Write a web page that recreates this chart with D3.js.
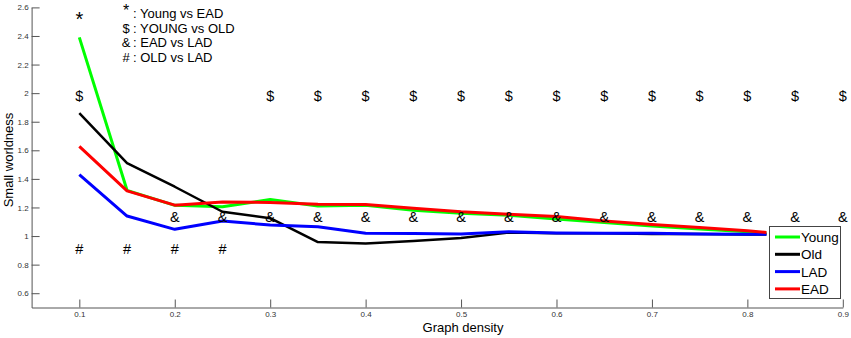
<!DOCTYPE html>
<html>
<head>
<meta charset="utf-8">
<script src="https://cdn.jsdelivr.net/npm/d3@7"></script>
<style>
  body { margin: 0; background: #fff; }
  svg { display: block; font-family: Arial, "Liberation Sans", sans-serif; }
  .axis path, .axis line { stroke: #555; }
  .axis text { fill: #333; font-size: 8px; }
</style>
</head>
<body>
<svg id="chart" width="851" height="338"></svg>
<script>
// graph densities for each threshold
const density = [0.1, 0.15, 0.2, 0.25, 0.3, 0.35, 0.4, 0.45, 0.5, 0.55, 0.6, 0.65, 0.7, 0.75, 0.8, 0.82];

const young = [2.39, 1.32, 1.215, 1.205, 1.255, 1.21, 1.215, 1.18, 1.16, 1.146, 1.12, 1.095, 1.07, 1.05, 1.03, 1.02];
const old   = [1.86, 1.51, 1.345, 1.17, 1.125, 0.958, 0.947, 0.965, 0.986, 1.024, 1.02, 1.02, 1.015, 1.015, 1.01, 1.01];
const lad   = [1.43, 1.14, 1.047, 1.105, 1.077, 1.065, 1.019, 1.017, 1.014, 1.03, 1.022, 1.02, 1.02, 1.015, 1.012, 1.012];
const ead   = [1.627, 1.316, 1.216, 1.239, 1.235, 1.223, 1.22, 1.195, 1.17, 1.153, 1.136, 1.105, 1.08, 1.06, 1.037, 1.025];

const seriesNames = ['Young', 'Old', 'LAD', 'EAD'];
const seriesColors = ['#00ff00', '#000000', '#0000ff', '#ff0000'];

// significance marks: densities where each symbol is shown
const starAt   = [0.1];
const dollarAt = [0.1, 0.3, 0.35, 0.4, 0.45, 0.5, 0.55, 0.6, 0.65, 0.7, 0.75, 0.8, 0.85, 0.9];
const ampAt    = [0.2, 0.25, 0.3, 0.35, 0.4, 0.45, 0.5, 0.55, 0.6, 0.65, 0.7, 0.75, 0.8, 0.85, 0.9];
const hashAt   = [0.1, 0.15, 0.2, 0.25];

const keySymbols = ['*', '$', '&', '#'];
const keyLabels = [': Young vs EAD', ': YOUNG vs OLD', ': EAD vs LAD', ': OLD vs LAD'];

const xTicks = [0.1, 0.2, 0.3, 0.4, 0.5, 0.6, 0.7, 0.8, 0.9];
const yTicks = [0.6, 0.8, 1, 1.2, 1.4, 1.6, 1.8, 2, 2.2, 2.4, 2.6];

const svg = d3.select('#chart');

const x = d3.scaleLinear().domain([0.05, 0.9]).range([31.6, 842.8]);
const y = d3.scaleLinear().domain([0.5, 2.6]).range([307.5, 7.4]);

const xAxis = d3.axisBottom(x)
    .tickValues(xTicks)
    .tickFormat(d3.format('.1f'))
    .tickSizeInner(-8)
    .tickSizeOuter(0)
    .tickPadding(4);

const yAxis = d3.axisLeft(y)
    .tickValues(yTicks)
    .tickFormat(d => d3.format('.1f')(d).replace(/\.0$/, ''))
    .tickSizeInner(-8)
    .tickSizeOuter(0)
    .tickPadding(3);

svg.append('g').attr('class', 'axis axis--x')
    .attr('transform', `translate(0, ${y.range()[0]})`)
    .call(xAxis)
    .call(g => g.selectAll('text').attr('dy', '0.71em'));

svg.append('g').attr('class', 'axis axis--y')
    .attr('transform', `translate(${x.range()[0]}, 0)`)
    .call(yAxis);

svg.append('text')
    .attr('x', 463)
    .attr('y', 332)
    .attr('text-anchor', 'middle')
    .attr('font-size', 13)
    .text('Graph density');

svg.append('text')
    .attr('transform', 'translate(13, 160) rotate(-90)')
    .attr('text-anchor', 'middle')
    .attr('font-size', 13)
    .text('Small worldness');

// lines
const line = d3.line()
    .x((d, i) => x(density[i]))
    .y(d => y(d));

[young, old, lad, ead].forEach((values, i) => {
    svg.append('path')
        .datum(values)
        .attr('fill', 'none')
        .attr('stroke', seriesColors[i])
        .attr('stroke-width', i === 1 ? 2.5 : 3)
        .attr('stroke-linejoin', 'round')
        .attr('d', line);
});

// significance marks
const marks = [
    {symbol: '*', level: 2.47, at: starAt, size: 20},
    {symbol: '$', level: 1.948, at: dollarAt, size: 14.5},
    {symbol: '&', level: 1.098, at: ampAt, size: 14.5},
    {symbol: '#', level: 0.871, at: hashAt, size: 14.5},
];

marks.forEach(m => {
    svg.append('g').selectAll('text').data(m.at)
        .enter().append('text')
            .attr('x', d => x(d))
            .attr('y', y(m.level))
            .attr('text-anchor', 'middle')
            .attr('font-size', m.size)
            .text(m.symbol);
});

// key for the symbols
const key = svg.append('g').attr('class', 'key');
keySymbols.forEach((s, i) => {
    const base = 18 + i * 14.6;
    key.append('text')
        .attr('x', 126)
        .attr('y', i === 0 ? 16 : base)
        .attr('text-anchor', 'middle')
        .attr('font-size', i === 0 ? 16 : 13)
        .text(s);
    key.append('text')
        .attr('x', 133)
        .attr('y', base)
        .attr('font-size', 13)
        .text(keyLabels[i]);
});

// legend
const legend = svg.append('g').attr('class', 'legend');
legend.append('rect')
    .attr('x', 769.5)
    .attr('y', 226.5)
    .attr('width', 71)
    .attr('height', 72)
    .attr('fill', '#fff')
    .attr('stroke', '#444');

seriesNames.forEach((name, i) => {
    const cy = 237 + i * 17.3;
    legend.append('line')
        .attr('x1', 775).attr('x2', 800)
        .attr('y1', cy).attr('y2', cy)
        .attr('stroke', seriesColors[i])
        .attr('stroke-width', 3);
    legend.append('text')
        .attr('x', 801)
        .attr('y', cy + 5)
        .attr('font-size', 13.5)
        .text(name);
});
</script>
</body>
</html>
